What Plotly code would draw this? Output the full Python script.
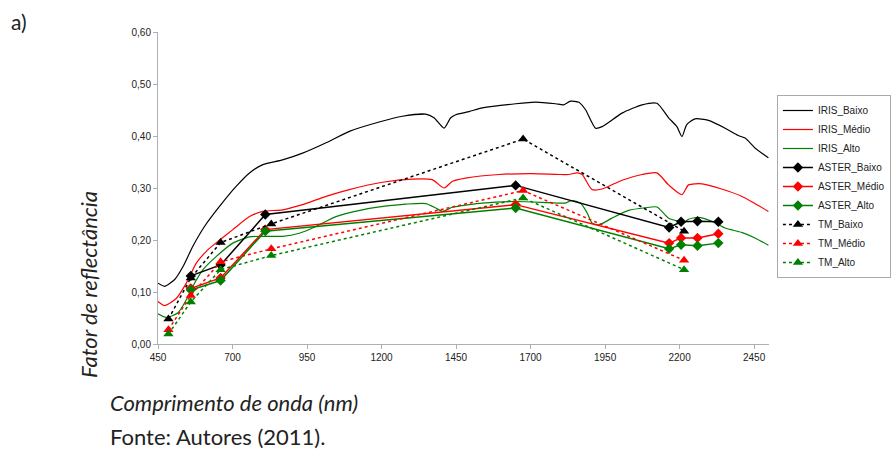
import plotly.graph_objects as go

# ---- IRIS spectra (continuous) ----
iris_baixo_nm = [450, 472, 506, 534, 567, 606, 657, 712, 757, 802, 868, 935, 1014, 1092, 1192, 1270, 1348, 1376, 1410, 1432, 1449, 1494, 1538, 1650, 1717, 1784, 1811, 1834, 1862, 1884, 1918, 1940, 2007, 2074, 2124, 2163, 2191, 2208, 2224, 2252, 2297, 2353, 2397, 2420, 2453, 2498]
iris_baixo = [0.117, 0.111, 0.124, 0.149, 0.188, 0.226, 0.265, 0.303, 0.329, 0.345, 0.354, 0.367, 0.387, 0.409, 0.427, 0.438, 0.442, 0.435, 0.415, 0.435, 0.441, 0.447, 0.454, 0.462, 0.465, 0.462, 0.460, 0.467, 0.465, 0.451, 0.415, 0.418, 0.444, 0.460, 0.463, 0.435, 0.418, 0.399, 0.422, 0.433, 0.430, 0.415, 0.401, 0.396, 0.377, 0.358]

iris_medio_nm = [450, 472, 512, 545, 579, 617, 657, 701, 757, 802, 868, 935, 1014, 1092, 1203, 1304, 1370, 1410, 1438, 1482, 1594, 1705, 1795, 1828, 1856, 1873, 1906, 1940, 2007, 2074, 2124, 2163, 2208, 2230, 2275, 2341, 2408, 2498]
iris_medio = [0.082, 0.074, 0.088, 0.117, 0.156, 0.181, 0.200, 0.220, 0.245, 0.255, 0.258, 0.268, 0.284, 0.297, 0.311, 0.317, 0.316, 0.300, 0.313, 0.319, 0.326, 0.3275, 0.326, 0.326, 0.329, 0.326, 0.297, 0.298, 0.315, 0.326, 0.329, 0.306, 0.287, 0.306, 0.308, 0.298, 0.284, 0.255]

iris_alto_nm = [450, 478, 517, 545, 567, 601, 645, 701, 757, 813, 868, 924, 980, 1047, 1136, 1226, 1282, 1349, 1382, 1404, 1438, 1494, 1538, 1650, 1761, 1817, 1839, 1867, 1890, 1906, 1929, 1973, 2029, 2085, 2124, 2163, 2197, 2213, 2230, 2263, 2308, 2353, 2408, 2453, 2498]
iris_alto = [0.058, 0.051, 0.060, 0.085, 0.111, 0.143, 0.168, 0.194, 0.206, 0.207, 0.207, 0.213, 0.226, 0.245, 0.258, 0.266, 0.269, 0.270, 0.2615, 0.255, 0.263, 0.268, 0.271, 0.274, 0.272, 0.271, 0.276, 0.271, 0.252, 0.233, 0.229, 0.242, 0.257, 0.262, 0.2635, 0.242, 0.236, 0.233, 0.240, 0.2435, 0.236, 0.223, 0.2146, 0.204, 0.190]

# ---- ASTER bands ----
aster_nm = [560, 660, 810, 1650, 2165, 2205, 2260, 2330]
aster_baixo = [0.131, 0.152, 0.249, 0.305, 0.224, 0.235, 0.236, 0.235]
aster_medio = [0.107, 0.127, 0.220, 0.268, 0.194, 0.204, 0.204, 0.212]
aster_alto = [0.104, 0.122, 0.217, 0.2615, 0.183, 0.191, 0.189, 0.194]

# ---- TM bands ----
tm_nm = [485, 560, 660, 830, 1675, 2215]
tm_baixo = [0.048, 0.127, 0.195, 0.231, 0.394, 0.217]
tm_medio = [0.0275, 0.0935, 0.158, 0.183, 0.295, 0.161]
tm_alto = [0.019, 0.081, 0.143, 0.170, 0.281, 0.143]

BLACK = "#000000"
RED = "#ff0000"
GREEN = "#008000"

fig = go.Figure()

for name, xs, ys, c in [("IRIS_Baixo", iris_baixo_nm, iris_baixo, BLACK),
                        ("IRIS_Médio", iris_medio_nm, iris_medio, RED),
                        ("IRIS_Alto", iris_alto_nm, iris_alto, GREEN)]:
    fig.add_trace(go.Scatter(x=xs, y=ys, name=name, mode="lines",
                             line=dict(color=c, width=1.2, shape="spline", smoothing=0.6)))

for name, ys, c in [("ASTER_Baixo", aster_baixo, BLACK),
                    ("ASTER_Médio", aster_medio, RED),
                    ("ASTER_Alto", aster_alto, GREEN)]:
    fig.add_trace(go.Scatter(x=aster_nm, y=ys, name=name, mode="lines+markers",
                             line=dict(color=c, width=1.5),
                             marker=dict(symbol="diamond", size=8, color=c)))

for name, ys, c in [("TM_Baixo", tm_baixo, BLACK),
                    ("TM_Médio", tm_medio, RED),
                    ("TM_Alto", tm_alto, GREEN)]:
    fig.add_trace(go.Scatter(x=tm_nm, y=ys, name=name, mode="lines+markers",
                             line=dict(color=c, width=1.5, dash="dot"),
                             marker=dict(symbol="triangle-up", size=9, color=c)))

tick_font = dict(family="Liberation Sans, Arial, sans-serif", size=10, color="#222")

fig.update_layout(
    width=893, height=453,
    margin=dict(l=158, r=124, t=32, b=109, autoexpand=False),
    paper_bgcolor="white", plot_bgcolor="white",
    separators=", ",
    showlegend=True,
    legend=dict(x=1.013, y=(344 - 95) / 312, xanchor="left", yanchor="top",
                bordercolor="#aaaaaa", borderwidth=1, bgcolor="white",
                font=dict(family="Liberation Sans, Arial, sans-serif", size=10, color="#222"),
                tracegroupgap=0),
    xaxis=dict(range=[450, 2500], tick0=450, dtick=250, showgrid=False, zeroline=False,
               showline=True, linecolor="#b0b0b0", linewidth=1,
               ticks="outside", ticklen=4, tickcolor="#b0b0b0",
               tickfont=tick_font),
    yaxis=dict(range=[0, 0.6], dtick=0.1, tickformat=".2f", showgrid=False, zeroline=False,
               showline=True, linecolor="#b0b0b0", linewidth=1,
               ticks="outside", ticklen=4, tickcolor="#b0b0b0",
               tickfont=tick_font),
)

text_font = "Lato, 'Open Sans', sans-serif"
fig.add_annotation(text="a)", xref="paper", yref="paper", x=(9 - 158) / 611, y=(344 - 22) / 312,
                   xanchor="left", yanchor="middle", showarrow=False,
                   font=dict(family=text_font, size=21, color="#222"))
fig.add_annotation(text="<i>Fator de reflectância</i>", xref="paper", yref="paper",
                   x=(88 - 158) / 611, y=(344 - 285) / 312, textangle=-90,
                   xanchor="center", yanchor="middle", showarrow=False,
                   font=dict(family=text_font, size=22, color="#222"))
fig.add_annotation(text="<i>Comprimento de onda (nm)</i>", xref="paper", yref="paper",
                   x=(108 - 158) / 611, y=(344 - 402) / 312,
                   xanchor="left", yanchor="middle", showarrow=False,
                   font=dict(family=text_font, size=22, color="#222"))
fig.add_annotation(text="Fonte: Autores (2011).", xref="paper", yref="paper",
                   x=(108 - 158) / 611, y=(344 - 436) / 312,
                   xanchor="left", yanchor="middle", showarrow=False,
                   font=dict(family=text_font, size=22, color="#222"))

fig.write_html("out.html", config={"displayModeBar": False},
               post_script="document.body.style.margin='0';document.body.style.overflow='hidden';")
